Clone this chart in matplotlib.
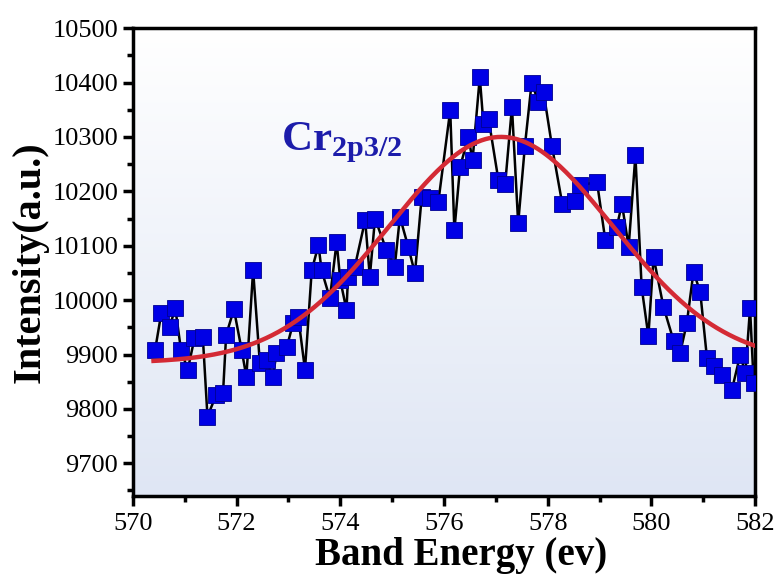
import numpy as np
import matplotlib
matplotlib.use('Agg')
import matplotlib.pyplot as plt
from matplotlib.colors import LinearSegmentedColormap

# XPS Cr 2p3/2 data
energy = [570.43, 570.55, 570.71, 570.82, 570.93, 571.06, 571.19, 571.35, 571.44, 571.61,
          571.74, 571.80, 571.95, 572.10, 572.19, 572.32, 572.45, 572.58, 572.70, 572.77,
          572.97, 573.09, 573.19, 573.32, 573.45, 573.58, 573.64, 573.80, 573.93, 574.00,
          574.12, 574.15, 574.28, 574.48, 574.57, 574.67, 574.89, 575.05, 575.15, 575.31,
          575.44, 575.57, 575.73, 575.89, 576.12, 576.20, 576.31, 576.47, 576.55, 576.69,
          576.76, 576.86, 577.05, 577.18, 577.31, 577.43, 577.56, 577.69, 577.82, 577.92,
          578.08, 578.28, 578.53, 578.62, 578.95, 579.11, 579.33, 579.43, 579.56, 579.69,
          579.81, 579.94, 580.04, 580.23, 580.43, 580.55, 580.68, 580.81, 580.94, 581.07,
          581.20, 581.36, 581.55, 581.71, 581.81, 581.90, 581.97]
intensity = [9908, 9976, 9951, 9985, 9908, 9872, 9930, 9933, 9786, 9826,
             9829, 9936, 9983, 9908, 9859, 10055, 9884, 9890, 9859, 9902,
             9914, 9957, 9969, 9872, 10055, 10101, 10055, 10003, 10107, 10037,
             9982, 10043, 10061, 10147, 10043, 10150, 10092, 10061, 10153, 10098,
             10049, 10190, 10187, 10180, 10349, 10128, 10245, 10300, 10257, 10410,
             10324, 10333, 10220, 10214, 10355, 10141, 10284, 10400, 10364, 10382,
             10284, 10177, 10183, 10211, 10217, 10110, 10134, 10177, 10098, 10266,
             10024, 9934, 10079, 9988, 9924, 9902, 9957, 10052, 10015, 9893,
             9878, 9862, 9835, 9899, 9866, 9985, 9848]

# Gaussian fit parameters
base = 9885
amp = 415
center = 577.1
sigma = 2.15

plt.rcParams['font.family'] = ['Liberation Serif', 'DejaVu Serif']
plt.rcParams['mathtext.fontset'] = 'custom'
plt.rcParams['mathtext.rm'] = 'Liberation Serif:bold'
plt.rcParams['mathtext.bf'] = 'Liberation Serif:bold'

fig = plt.figure(figsize=(7.81, 5.74), dpi=100)
ax = fig.add_axes([0.170, 0.136, 0.797, 0.815])

# light gradient background
grad = np.linspace(0, 1, 256).reshape(-1, 1)
cmap = LinearSegmentedColormap.from_list('bg', ['#ffffff', '#dfe6f4'])
ax.imshow(grad, extent=[0, 1, 0, 1], transform=ax.transAxes, aspect='auto',
          cmap=cmap, origin='upper', zorder=0)

ax.plot(energy, intensity, color='black', lw=1.8, zorder=2)
ax.plot(energy, intensity, 's', ms=11.5, color='#0000e6', mec='#000090', mew=0.6, zorder=3)

xf = np.linspace(570.4, 582, 300)
yf = base + amp * np.exp(-(xf - center) ** 2 / (2 * sigma ** 2))
ax.plot(xf, yf, color='#d42a35', lw=3.2, zorder=4)

ax.text(572.85, 10275, r'Cr$_{\mathrm{2p3/2}}$', color='#1c1caa', fontsize=31,
        fontweight='bold', zorder=5)

ax.set_xlim(570, 582)
ax.set_ylim(9640, 10500)
ax.set_xticks(np.arange(570, 583, 2))
ax.set_xticks(np.arange(570, 583, 1), minor=True)
ax.set_yticks(np.arange(9700, 10501, 100))
ax.set_yticks(np.arange(9650, 10501, 50), minor=True)

for s in ax.spines.values():
    s.set_linewidth(2.5)
ax.tick_params(which='major', direction='out', length=7, width=2.5, labelsize=19)
ax.tick_params(which='minor', direction='out', length=4, width=2.5)
ax.tick_params(axis='x', pad=5)

ax.set_xlabel('Band Energy (ev)', fontsize=28, fontweight='bold')
ax.xaxis.set_label_coords(0.527, -0.087)
ax.set_ylabel('Intensity(a.u.)', fontsize=29, fontweight='bold', labelpad=3)

fig.savefig('out.png', dpi=100)
